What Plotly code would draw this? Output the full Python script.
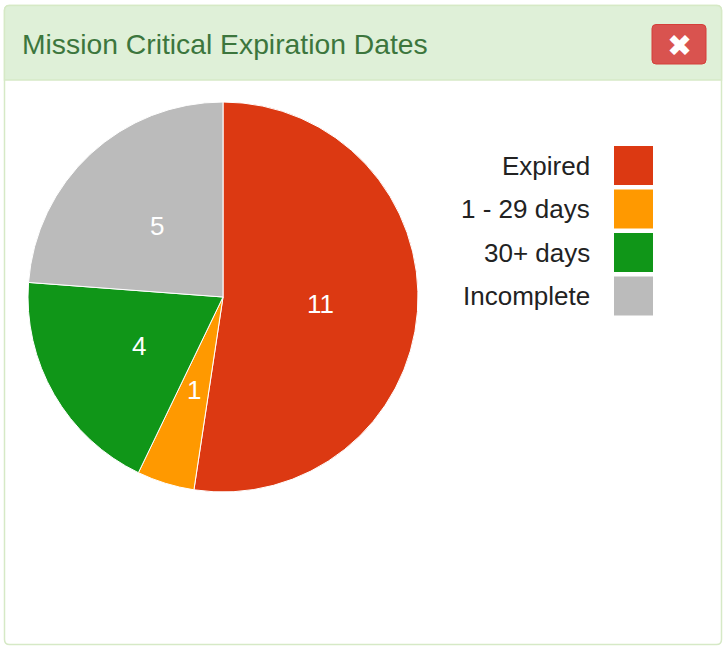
import math
import plotly.graph_objects as go

# ---- data ----
categories = ["Expired", "1 - 29 days", "30+ days", "Incomplete"]
counts = [11, 1, 4, 5]
colors = ["#dc3912", "#ff9900", "#109618", "#bbbbbb"]
title_text = "Mission Critical Expiration Dates"

W, H = 724, 646
FONT = "Liberation Sans, Arial, sans-serif"


def px(x):
    return x / W


def py(y):
    return 1 - y / H


def rrect(x0, y0, x1, y1, r, top_only=False):
    # rounded rectangle path in paper coords (pixel input)
    rb = 0 if top_only else r
    pts = [
        f"M {px(x0 + r)},{py(y0)}",
        f"L {px(x1 - r)},{py(y0)}",
        f"Q {px(x1)},{py(y0)} {px(x1)},{py(y0 + r)}",
        f"L {px(x1)},{py(y1 - rb)}",
        f"Q {px(x1)},{py(y1)} {px(x1 - rb)},{py(y1)}",
        f"L {px(x0 + rb)},{py(y1)}",
        f"Q {px(x0)},{py(y1)} {px(x0)},{py(y1 - rb)}",
        f"L {px(x0)},{py(y0 + r)}",
        f"Q {px(x0)},{py(y0)} {px(x0 + r)},{py(y0)}",
        "Z",
    ]
    return " ".join(pts)


# pie geometry (pixels)
cx, cy, R = 223, 297, 195

fig = go.Figure()
fig.add_trace(go.Pie(
    labels=categories,
    values=counts,
    marker=dict(colors=colors, line=dict(color="white", width=1)),
    sort=False,
    direction="clockwise",
    rotation=0,
    textinfo="none",
    showlegend=False,
    domain=dict(x=[px(cx - R), px(cx + R)], y=[py(cy + R), py(cy - R)]),
))

shapes = []
# panel outer border
shapes.append(dict(type="path", xref="paper", yref="paper",
                   path=rrect(4.5, 5.5, 721.5, 644.5, 5),
                   fillcolor="white", line=dict(color="#d6e9c6", width=1.5), layer="below"))
# header
shapes.append(dict(type="path", xref="paper", yref="paper",
                   path=rrect(4.5, 5.5, 721.5, 80, 5, top_only=True),
                   fillcolor="#dff0d8", line=dict(color="#d6e9c6", width=1.5), layer="below"))
# close button
shapes.append(dict(type="path", xref="paper", yref="paper",
                   path=rrect(652, 24.5, 706, 64, 4),
                   fillcolor="#d9534f", line=dict(color="#d43f3a", width=1), layer="below"))

annotations = []
annotations.append(dict(text=title_text, x=px(20), y=py(44), xref="paper", yref="paper",
                        xanchor="left", yanchor="middle", showarrow=False,
                        font=dict(family=FONT, size=28.3, color="#3c763d")))
annotations.append(dict(text="✖", x=px(679.5), y=py(45), xref="paper", yref="paper",
                        xanchor="center", yanchor="middle", showarrow=False,
                        font=dict(family="DejaVu Sans", size=30, color="white")))

# slice value labels at half radius along each slice's mid-angle
total = sum(counts)
cum = 0
for v in counts:
    mid = (cum + v / 2) / total * 2 * math.pi
    cum += v
    lx = cx + 0.5 * R * math.sin(mid)
    ly = cy - 0.5 * R * math.cos(mid)
    annotations.append(dict(text=str(v), x=px(lx), y=py(ly), xref="paper", yref="paper",
                            xanchor="center", yanchor="middle", showarrow=False,
                            font=dict(family=FONT, size=26, color="white")))

# legend (labels right-aligned, swatches on the right)
leg_top, leg_step, sw = 146, 43.5, 39
for i, (lab, col) in enumerate(zip(categories, colors)):
    y0 = leg_top + i * leg_step
    shapes.append(dict(type="rect", xref="paper", yref="paper",
                       x0=px(614), x1=px(614 + sw), y0=py(y0), y1=py(y0 + sw),
                       fillcolor=col, line=dict(width=0)))
    annotations.append(dict(text=lab, x=px(592), y=py(y0 + sw / 2), xref="paper", yref="paper",
                            xanchor="right", yanchor="middle", showarrow=False,
                            font=dict(family=FONT, size=26, color="#222222")))

fig.update_layout(
    width=W, height=H,
    margin=dict(l=0, r=0, t=0, b=0),
    paper_bgcolor="white",
    plot_bgcolor="white",
    shapes=shapes,
    annotations=annotations,
)

fig.write_html("out.html", config={"displayModeBar": False},
               post_script="document.body.style.margin='0';document.body.style.overflow='hidden';")
